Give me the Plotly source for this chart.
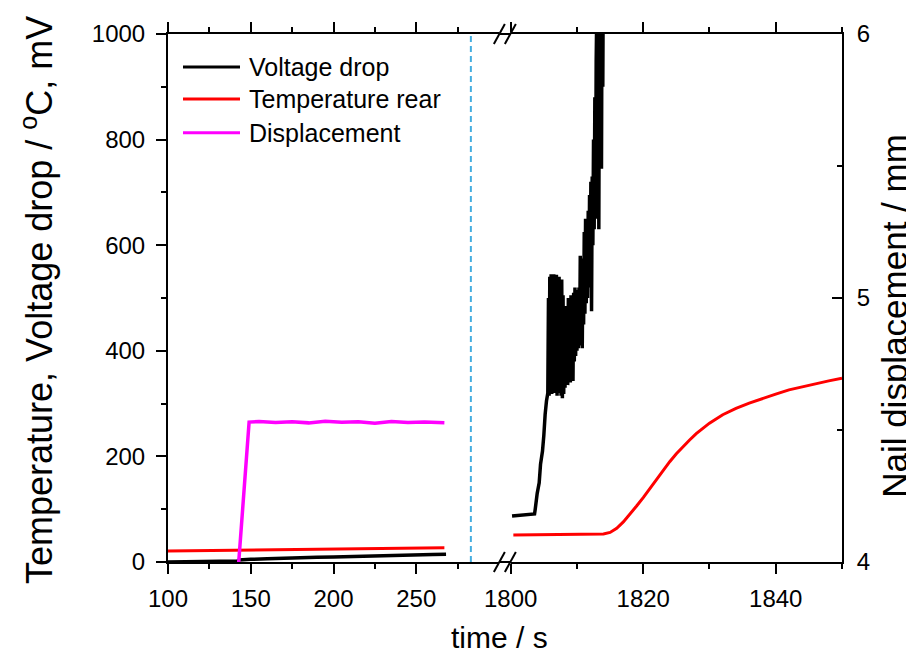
import plotly.graph_objects as go

# ---------------- data ----------------
# left time segment (100 - 300 s)
t_volt_left = [100, 110, 120, 130, 140, 142, 143, 145, 150, 160, 170, 180, 190, 200,
               210, 220, 230, 240, 250, 260, 268]
volt_left = [0, 0.3, 0.6, 1.0, 1.5, 2.0, 4.0, 4.5, 5.0, 6.0, 7.5, 8.0, 9.0, 9.5,
             10.5, 11.0, 12.0, 12.5, 13.0, 14.0, 14.5]

t_temp_left = [100, 150, 200, 250, 267]
temp_left = [21, 22.5, 24, 26, 27]

t_disp = [142.5, 149.0, 155, 165, 175, 185, 195, 205, 215, 225, 235, 245, 255, 267]
disp = [3.98, 4.53, 4.532, 4.528, 4.531, 4.527, 4.533, 4.529, 4.531, 4.526, 4.532, 4.528, 4.530, 4.527]

# right time segment (1800 - 1850 s)
t_volt_right = [1800.2, 1803.6, 1803.7, 1804.0, 1804.3, 1804.5, 1804.8, 1805.0, 1805.2, 1805.4,
                1805.6, 1805.7, 1805.8, 1805.9, 1806.0, 1806.1, 1806.2, 1806.3, 1806.4, 1806.5,
                1806.6, 1806.7, 1806.8, 1806.9, 1807.0, 1807.1, 1807.2, 1807.3, 1807.4, 1807.5,
                1807.6, 1807.7, 1807.8, 1807.9, 1808.0, 1808.1, 1808.2, 1808.3, 1808.4, 1808.5,
                1808.6, 1808.7, 1808.8, 1808.9, 1809.0, 1809.1, 1809.2, 1809.3, 1809.4, 1809.5,
                1809.6, 1809.7, 1809.8, 1809.9, 1810.0, 1810.1, 1810.2, 1810.3, 1810.4, 1810.5,
                1810.6, 1810.7, 1810.8, 1810.9, 1811.0, 1811.1, 1811.2, 1811.3, 1811.4, 1811.5,
                1811.6, 1811.7, 1811.8, 1811.9, 1812.0, 1812.1, 1812.2, 1812.3, 1812.4, 1812.5,
                1812.6, 1812.7, 1812.8, 1812.9, 1813.0, 1813.1, 1813.2, 1813.3, 1813.4, 1813.5,
                1813.6, 1813.7, 1813.8, 1813.9, 1814.0]
volt_right = [87, 91, 100, 130, 150, 185, 210, 240, 280, 305,
              320, 500, 315, 540, 330, 545, 318, 542, 330, 545,
              320, 538, 335, 544, 315, 530, 330, 540, 320, 520,
              315, 535, 310, 505, 318, 470, 330, 485, 340, 460,
              335, 500, 345, 495, 340, 505, 350, 490, 343, 510,
              380, 520, 390, 515, 400, 505, 405, 520, 410, 580,
              415, 575, 405, 565, 450, 625, 470, 650, 490, 640,
              500, 665, 520, 695, 540, 720, 475, 730, 600, 800,
              630, 880, 650, 950, 1050, 700, 1080, 630, 1100, 760,
              1120, 745, 1150, 900, 1200]

t_temp_right = [1800.4, 1805.0, 1810.0, 1814.0, 1815.0, 1816.0, 1817.0, 1818.0, 1819.0,
                1820.0, 1821.0, 1822.0, 1823.0, 1824.0, 1825.0, 1826.0, 1827.0, 1828.0,
                1829.0, 1830.0, 1832.0, 1834.0, 1836.0, 1838.0, 1840.0, 1842.0, 1844.0,
                1846.0, 1848.0, 1850.0]
temp_right = [51, 51.5, 52, 53, 56, 64, 76, 90, 106,
              122, 139, 157, 174, 190, 205, 219, 231, 243,
              253, 263, 279, 291, 301, 310, 318, 326, 332,
              338, 343, 348]

marker_time = 283  # dashed reference line (s)

left_ticks = [100, 150, 200, 250]
left_minor = [125, 175, 225, 275]
right_ticks = [1800, 1820, 1840]
right_minor = [1810, 1830, 1850]
y_ticks = [0, 200, 400, 600, 800, 1000]
y_minor = [100, 300, 500, 700, 900]
y2_ticks = [4, 5, 6]
y2_minor = [4.5, 5.5]

legend_names = ["Voltage drop", "Temperature rear", "Displacement"]
legend_colors = ["#000000", "#FF0000", "#FF00FF"]

# ---------------- layout geometry ----------------
# the page body has an 8 px margin; figure is sized so the plot lands where the reference has it
BODY = 8
W, H = 914 - BODY, 653 - BODY
ML, MR, MT, MB = 168 - BODY, 72, 30 - BODY, 91
PW, PH = W - ML - MR, H - MT - MB
PL, PT = ML + BODY, MT + BODY  # plot-area origin in page pixels


def px_x(px):
    return (px - PL) / PW


def px_y(py):
    return 1 - (py - PT) / PH


left_dom = [0, px_x(499)]
right_dom = [px_x(510.7), 1]
FONT = "Liberation Sans, Arial, sans-serif"

fig = go.Figure()

fig.add_trace(go.Scatter(x=t_temp_left, y=temp_left, xaxis="x", yaxis="y", mode="lines",
                         line=dict(color="#FF0000", width=3), showlegend=False))
fig.add_trace(go.Scatter(x=t_volt_left, y=volt_left, xaxis="x", yaxis="y", mode="lines",
                         line=dict(color="#000000", width=3.5), showlegend=False))
fig.add_trace(go.Scatter(x=t_disp, y=disp, xaxis="x", yaxis="y2", mode="lines",
                         line=dict(color="#FF00FF", width=3.5), showlegend=False))
fig.add_trace(go.Scatter(x=t_temp_right, y=temp_right, xaxis="x2", yaxis="y", mode="lines",
                         line=dict(color="#FF0000", width=3), showlegend=False))
fig.add_trace(go.Scatter(x=t_volt_right, y=volt_right, xaxis="x2", yaxis="y", mode="lines",
                         line=dict(color="#000000", width=3.5, simplify=False),
                         showlegend=False))

axis_common = dict(showline=True, linewidth=2, linecolor="black", showgrid=False,
                   zeroline=False, ticks="outside", ticklen=10, tickwidth=2,
                   tickcolor="black", tickfont=dict(size=24, family=FONT, color="black"))

fig.update_layout(
    width=W, height=H,
    margin=dict(l=ML, r=MR, t=MT, b=MB),
    paper_bgcolor="white", plot_bgcolor="white",
    font=dict(family=FONT, color="black"),
    xaxis=dict(domain=left_dom, range=[100, 300], tickmode="array", tickvals=left_ticks,
               anchor="y", mirror="ticks", ticklabelstandoff=4,
               minor=dict(tickvals=left_minor, ticklen=5, tickwidth=2, ticks="outside",
                          tickcolor="black"),
               **axis_common),
    xaxis2=dict(domain=right_dom, range=[1800, 1850], tickmode="array", tickvals=right_ticks,
                anchor="y", mirror="ticks", ticklabelstandoff=4,
                minor=dict(tickvals=right_minor, ticklen=5, tickwidth=2, ticks="outside",
                           tickcolor="black"),
                **axis_common),
    yaxis=dict(domain=[0, 1], range=[0, 1000], tickmode="array", tickvals=y_ticks,
               anchor="x", ticklabelstandoff=6,
               minor=dict(tickvals=y_minor, ticklen=5, tickwidth=2, ticks="outside",
                          tickcolor="black"),
               **axis_common),
    yaxis2=dict(range=[4, 6], overlaying="y", side="right", anchor="x2",
                tickmode="array", tickvals=y2_ticks, showline=True, linewidth=2,
                linecolor="black", showgrid=False, zeroline=False, ticks="inside",
                ticklen=10, tickwidth=2, tickcolor="black", ticklabelstandoff=8,
                tickfont=dict(size=24, family=FONT, color="black"),
                minor=dict(tickvals=y2_minor, ticklen=5, tickwidth=2, ticks="inside",
                           tickcolor="black")),
    showlegend=False,
)

shapes = []
# dashed reference line
shapes.append(dict(type="line", xref="x", yref="paper", x0=marker_time, x1=marker_time,
                   y0=0, y1=1, line=dict(color="#45AEE0", width=2, dash="6px,4px")))
# axis line through the break (top and bottom)
for yy in (0, 1):
    shapes.append(dict(type="line", xref="paper", yref="paper", x0=left_dom[1],
                       x1=right_dom[0], y0=yy, y1=yy, line=dict(color="black", width=2)))
# break marks "//"
brk = (left_dom[1] + right_dom[0]) / 2
for yy in (0, 1):
    for off in (-5.5, 5.5):
        shapes.append(dict(type="line", xref="paper", yref="paper",
                           xsizemode="pixel", xanchor=brk, x0=off - 5.5, x1=off + 5.5,
                           ysizemode="pixel", yanchor=yy, y0=-10, y1=10,
                           line=dict(color="black", width=2)))
# legend line samples
legend_rows = [63.3, 95.5, 129.5]
for name, col, ry in zip(legend_names, legend_colors, legend_rows):
    shapes.append(dict(type="line", xref="paper", yref="paper", x0=px_x(183), x1=px_x(240),
                       y0=px_y(ry), y1=px_y(ry), line=dict(color=col, width=3)))

annotations = []
for name, ry in zip(legend_names, legend_rows):
    annotations.append(dict(text=name, xref="paper", yref="paper", x=px_x(247), y=px_y(ry),
                            xanchor="left", yanchor="middle", showarrow=False,
                            font=dict(size=25, family=FONT, color="black")))
# axis titles
annotations.append(dict(text="time / s", xref="paper", yref="paper", x=px_x(499), y=px_y(638),
                        xanchor="center", yanchor="middle", showarrow=False,
                        font=dict(size=30, family=FONT, color="black")))
annotations.append(dict(text="Temperature, Voltage drop / <sup>o</sup>C, mV", xref="paper",
                        yref="paper", x=px_x(37), y=px_y(298), xanchor="center",
                        yanchor="middle", textangle=-90, showarrow=False,
                        font=dict(size=36, family=FONT, color="black")))
annotations.append(dict(text="Nail displacement / mm", xref="paper", yref="paper",
                        x=px_x(895), y=px_y(314), xanchor="center", yanchor="middle",
                        textangle=-90, showarrow=False,
                        font=dict(size=35, family=FONT, color="black")))

fig.update_layout(shapes=shapes, annotations=annotations)

fig.write_html("out.html")
